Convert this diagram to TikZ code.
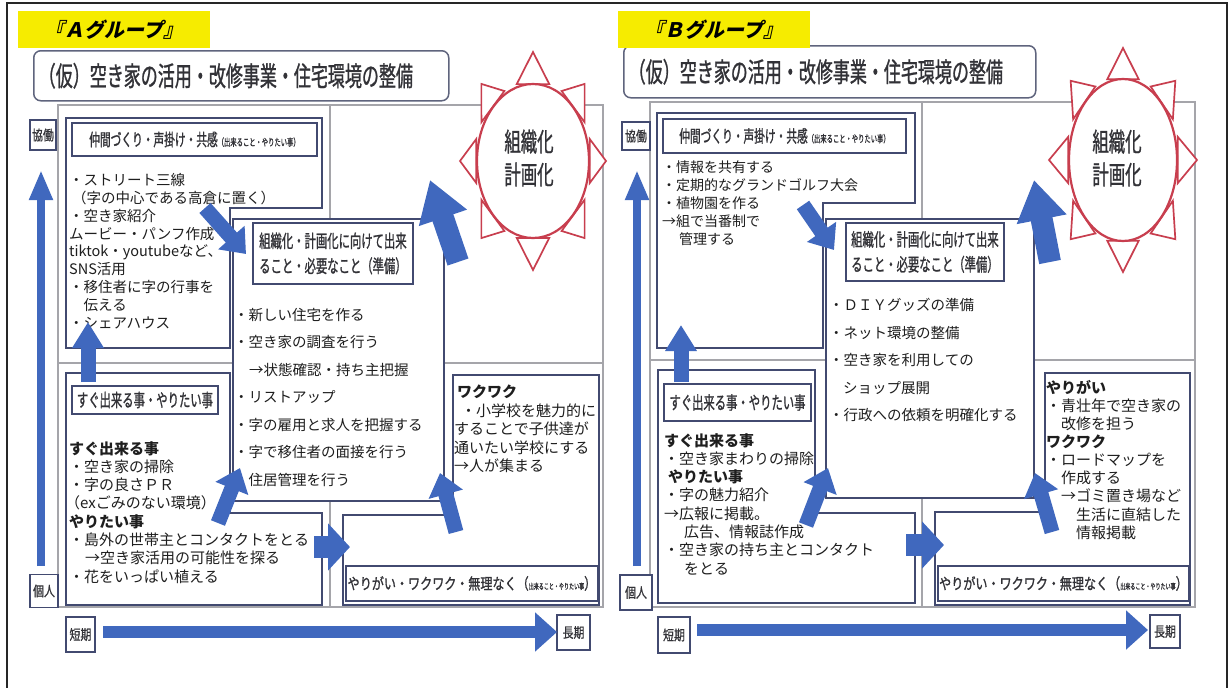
\documentclass[tikz,border=0pt]{standalone}
\usepackage{fontspec}
\usetikzlibrary{arrows.meta,calc}
\newfontfamily\jp{Noto Sans CJK JP}
\newfontfamily\jpcn[FakeStretch=0.63,FakeBold=1]{Noto Sans CJK JP}
\newfontfamily\jpcm[FakeStretch=0.78,FakeBold=1]{Noto Sans CJK JP}
\newfontfamily\jpsl[FakeSlant=0.22]{Noto Sans CJK JP}
\definecolor{arrowblue}{RGB}{64,104,190}
\definecolor{boxline}{RGB}{66,74,112}
\definecolor{titleframe}{RGB}{95,100,125}
\definecolor{gridgray}{RGB}{165,165,170}
\definecolor{sunred}{RGB}{200,62,78}
\definecolor{labelyellow}{RGB}{246,236,0}
\definecolor{txt}{RGB}{30,30,30}
\definecolor{titletxt}{RGB}{50,50,55}
\begin{document}
\begin{tikzpicture}[x=1pt,y=-1pt,
  gridline/.style={draw=gridgray, line width=1.4pt},
  panelbox/.style={draw=boxline, line width=1.6pt, fill=white},
  panelnode/.style={draw=boxline, line width=1.6pt, fill=white, inner sep=0pt},
  subtitle/.style={draw=boxline, line width=1.9pt, fill=white, inner sep=0pt, text=titletxt},
  maintitle/.style={draw=titleframe, line width=1.5pt, rounded corners=7pt, fill=white, inner xsep=5pt, inner ysep=0pt, align=left, text=titletxt, font=\jpcn\fontsize{27pt}{27pt}\selectfont},
  ylabel/.style={fill=labelyellow, inner sep=0pt, font=\jpsl\bfseries\fontsize{20pt}{20pt}\selectfont},
  axisbox/.style={draw=boxline, line width=1.4pt, fill=white, inner sep=0pt, text=titletxt, font=\jpcm\fontsize{14pt}{14pt}\selectfont},
  bodytxt/.style={anchor=north west, inner sep=0pt, align=left, text=txt},
  sunline/.style={draw=sunred, line width=1.7pt, fill=white, line join=miter},
  suntext/.style={inner sep=0pt, align=center, text=titletxt, font=\jpcn\fontsize{26pt}{33pt}\selectfont},
  barr/.style={draw=arrowblue, line width=15pt, -{Triangle[width=34pt,length=22pt]}},
  bigarr/.style={draw=arrowblue, line width=22pt, -{Triangle[width=48pt,length=40pt]}},
  uparr/.style={draw=arrowblue, line width=15pt, -{Triangle[width=30pt,length=26pt]}},
  axvarr/.style={draw=arrowblue, line width=8pt, -{Triangle[width=22pt,length=30pt]}},
  axharr/.style={draw=arrowblue, line width=12pt, -{Triangle[width=38pt,length=22pt]}}
]
\useasboundingbox (0,0) rectangle (1229,688);
\fill[white] (0,0) rectangle (1229,688);
\draw[line width=2pt, draw=black!85] (7,690) -- (7,3) -- (1227,3) -- (1227,690);

% ================= A GROUP =================
\draw[gridline] (58,105) rectangle (603,607);
\draw[gridline] (330,105) -- (330,607);
\draw[gridline] (58,363) -- (603,363);

\node[maintitle, anchor=north west, minimum height=50pt, text width=405pt] (titleA) at (33,50) {（仮）空き家の活用・改修事業・住宅環境の整備};
\node[ylabel, anchor=north west, minimum width=192pt, minimum height=37pt] (labelA) at (18,11) {『Ａグループ』};

% top-left box
\draw[panelbox] (66,118) -- (322,118) -- (322,208) -- (230,208) -- (230,348) -- (66,348) -- cycle;
\node[subtitle, anchor=north west, minimum width=245pt, minimum height=33pt] (tlTitleA) at (71,122) {{\jpcn\fontsize{17pt}{17pt}\selectfont 仲間づくり・声掛け・共感}{\jpcn\fontsize{10pt}{10pt}\selectfont （出来ること・やりたい事）}};
\node[bodytxt, font=\jp\fontsize{14.5pt}{17.9pt}\selectfont] (tlBodyA) at (69,173) {・ストリート三線\\\hspace*{3pt}（字の中心である高倉に置く）\\・空き家紹介\\ムービー・パンフ作成\\tiktok・youtubeなど、\\SNS活用\\・移住者に字の行事を\\　伝える\\・シェアハウス};

% middle box
\node[panelnode, anchor=north west, minimum width=211pt, minimum height=282pt] (midA) at (232,218) {};
\node[subtitle, anchor=north west, minimum width=160pt, minimum height=61pt, align=center, font=\jpcn\fontsize{18pt}{25pt}\selectfont] (midTitleA) at (252,222) {組織化・計画化に向けて出来\\ること・必要なこと（準備）};
\node[bodytxt, font=\jp\fontsize{14.5pt}{27.5pt}\selectfont] (midBodyA) at (234,308) {・新しい住宅を作る\\・空き家の調査を行う\\\hspace*{15pt}→状態確認・持ち主把握\\・リストアップ\\・字の雇用と求人を把握する\\・字で移住者の面接を行う\\・住居管理を行う};

% bottom-left box
\draw[panelbox] (66,373) -- (230,373) -- (230,513) -- (322,513) -- (322,605) -- (66,605) -- cycle;
\node[subtitle, anchor=north west, minimum width=146pt, minimum height=28pt, font=\jpcn\fontsize{18pt}{18pt}\selectfont] (blTitleA) at (71,385) {すぐ出来る事・やりたい事};
\node[bodytxt, font=\jp\fontsize{15pt}{18.3pt}\selectfont] (blBodyA) at (69,441) {{\bfseries すぐ出来る事}\\・空き家の掃除\\・字の良さＰＲ\\\hspace*{-4pt}（exごみのない環境）\\{\bfseries やりたい事}\\・島外の世帯主とコンタクトをとる\\\hspace*{16pt}→空き家活用の可能性を探る\\・花をいっぱい植える};

% bottom-right box
\draw[panelbox] (343,515) -- (453,515) -- (453,375) -- (599,375) -- (599,605) -- (343,605) -- cycle;
\node[subtitle, anchor=north west, minimum width=252pt, minimum height=35pt] (brTitleA) at (345,565) {{\jpcm\fontsize{15.5pt}{15.5pt}\selectfont やりがい・ワクワク・無理なく（}{\jpcn\fontsize{8pt}{8pt}\selectfont 出来ること・やりたい事}{\jpcm\fontsize{15.5pt}{15.5pt}\selectfont ）}};
\node[bodytxt, font=\jp\fontsize{15pt}{18.5pt}\selectfont] (brBodyA) at (454,385) {\hspace*{3pt}{\bfseries ワクワク}\\\hspace*{7pt}・小学校を魅力的に\\することで子供達が\\通いたい学校にする\\→人が集まる};

% sun
\coordinate (sunAc) at (533,161);
\foreach \a in {0,45,...,315}
  \draw[sunline] ($(sunAc)+(\a:73 and 109)$) -- ($(sunAc)+(\a+16:59 and 80)$) -- ($(sunAc)+(\a-16:59 and 80)$) -- cycle;
\draw[sunline, line width=2.2pt] (sunAc) ellipse [x radius=56pt, y radius=77pt];
\node[suntext] (sunTextA) at (529,158) {組織化\\計画化};

% axis labels
\node[axisbox, minimum width=26pt, minimum height=30pt] (kyodoA) at (43,135) {協働};
\node[axisbox, minimum width=28pt, minimum height=33pt] (kojinA) at (44,591) {個人};
\node[axisbox, minimum width=29pt, minimum height=35pt] (tankiA) at (80.5,634.5) {短期};
\node[axisbox, minimum width=33pt, minimum height=35pt] (chokiA) at (573.5,632.5) {長期};

% arrows A
\coordinate (vA1) at (41,566); \coordinate (vA2) at (41,170);
\draw[axvarr] (vA1) -- (vA2);
\coordinate (hA1) at (103,632); \coordinate (hA2) at (557,632);
\draw[axharr] (hA1) -- (hA2);
\coordinate (aA1) at (205,208); \coordinate (aA2) at (246,254);
\draw[barr] (aA1) -- (aA2);
\coordinate (bA1) at (458,262); \coordinate (bA2) at (430,180);
\draw[bigarr] (bA1) -- (bA2);
\coordinate (cA1) at (88,382); \coordinate (cA2) at (88,322);
\draw[uparr] (cA1) -- (cA2);
\coordinate (dA1) at (218,523); \coordinate (dA2) at (240,468);
\draw[barr] (dA1) -- (dA2);
\coordinate (eA1) at (314,547); \coordinate (eA2) at (350,547);
\draw[barr, line width=22pt, -{Triangle[width=46pt,length=22pt]}] (eA1) -- (eA2);
\coordinate (fA1) at (456,532); \coordinate (fA2) at (440,473);
\draw[barr] (fA1) -- (fA2);

% ================= B GROUP =================
\draw[gridline] (650,102) rectangle (1195,607);
\draw[gridline] (922,102) -- (922,607);
\draw[gridline] (650,360) -- (1195,360);

\node[maintitle, anchor=north west, minimum height=52pt, text width=402pt] (titleB) at (623,45) {（仮）空き家の活用・改修事業・住宅環境の整備};
\node[ylabel, anchor=north west, minimum width=192pt, minimum height=37pt] (labelB) at (618,11) {『Ｂグループ』};

% top-left box
\draw[panelbox] (657,113) -- (915,113) -- (915,203) -- (823,203) -- (823,348) -- (657,348) -- cycle;
\node[subtitle, anchor=north west, minimum width=243pt, minimum height=34pt] (tlTitleB) at (662,118) {{\jpcn\fontsize{17pt}{17pt}\selectfont 仲間づくり・声掛け・共感}{\jpcn\fontsize{10pt}{10pt}\selectfont （出来ること・やりたい事）}};
\node[bodytxt, font=\jp\fontsize{14pt}{17.8pt}\selectfont] (tlBodyB) at (662,161) {・情報を共有する\\・定期的なグランドゴルフ大会\\・植物園を作る\\→組で当番制で\\\hspace*{17pt}管理する};

% middle box
\node[panelnode, anchor=north west, minimum width=208pt, minimum height=279pt] (midB) at (825,218) {};
\node[subtitle, anchor=north west, minimum width=158pt, minimum height=58pt, align=center, font=\jpcn\fontsize{18pt}{25pt}\selectfont] (midTitleB) at (845,222) {組織化・計画化に向けて出来\\ること・必要なこと（準備）};
\node[bodytxt, font=\jp\fontsize{14.5pt}{27.5pt}\selectfont] (midBodyB) at (829,298) {・ＤＩＹグッズの準備\\・ネット環境の整備\\・空き家を利用しての\\\hspace*{14pt}ショップ展開\\・行政への依頼を明確化する};

% bottom-left box
\draw[panelbox] (658,370) -- (815,370) -- (815,513) -- (915,513) -- (915,603) -- (658,603) -- cycle;
\node[subtitle, anchor=north west, minimum width=147pt, minimum height=37pt, font=\jpcn\fontsize{18pt}{18pt}\selectfont] (blTitleB) at (663,383) {すぐ出来る事・やりたい事};
\node[bodytxt, font=\jp\fontsize{15pt}{18.3pt}\selectfont] (blBodyB) at (664,433) {{\bfseries すぐ出来る事}\\・空き家まわりの掃除\\\hspace*{4pt}{\bfseries やりたい事}\\・字の魅力紹介\\→広報に掲載。\\\hspace*{20pt}広告、情報誌作成\\・空き家の持ち主とコンタクト\\\hspace*{20pt}をとる};

% bottom-right box
\draw[panelbox] (935,512) -- (1045,512) -- (1045,373) -- (1190,373) -- (1190,605) -- (935,605) -- cycle;
\node[subtitle, anchor=north west, minimum width=251pt, minimum height=35pt] (brTitleB) at (937,565) {{\jpcm\fontsize{15.5pt}{15.5pt}\selectfont やりがい・ワクワク・無理なく（}{\jpcn\fontsize{8pt}{8pt}\selectfont 出来ること・やりたい事}{\jpcm\fontsize{15.5pt}{15.5pt}\selectfont ）}};
\node[bodytxt, font=\jp\fontsize{15pt}{18.1pt}\selectfont] (brBodyB) at (1046,380) {{\bfseries やりがい}\\・青壮年で空き家の\\\hspace*{15pt}改修を担う\\{\bfseries ワクワク}\\・ロードマップを\\\hspace*{15pt}作成する\\\hspace*{15pt}→ゴミ置き場など\\\hspace*{30pt}生活に直結した\\\hspace*{30pt}情報掲載};

% sun
\coordinate (sunBc) at (1123,160);
\foreach \a in {0,45,...,315}
  \draw[sunline] ($(sunBc)+(\a:74 and 112)$) -- ($(sunBc)+(\a+16:57 and 84)$) -- ($(sunBc)+(\a-16:57 and 84)$) -- cycle;
\draw[sunline, line width=2.2pt] (sunBc) ellipse [x radius=54pt, y radius=81pt];
\node[suntext] (sunTextB) at (1117,158) {組織化\\計画化};

% axis labels
\node[axisbox, minimum width=28pt, minimum height=28pt] (kyodoB) at (636,136) {協働};
\node[axisbox, minimum width=32pt, minimum height=35pt] (kojinB) at (636,592.5) {個人};
\node[axisbox, minimum width=32pt, minimum height=36pt] (tankiB) at (674,635) {短期};
\node[axisbox, minimum width=30pt, minimum height=33pt] (chokiB) at (1165,631.5) {長期};

% arrows B
\coordinate (vB1) at (637,566); \coordinate (vB2) at (637,170);
\draw[axvarr] (vB1) -- (vB2);
\coordinate (hB1) at (697,630); \coordinate (hB2) at (1148,630);
\draw[axharr] (hB1) -- (hB2);
\coordinate (aB1) at (803,205); \coordinate (aB2) at (834,250);
\draw[barr] (aB1) -- (aB2);
\coordinate (bB1) at (1050,262); \coordinate (bB2) at (1034,180);
\draw[bigarr] (bB1) -- (bB2);
\coordinate (cB1) at (681,382); \coordinate (cB2) at (681,325);
\draw[uparr] (cB1) -- (cB2);
\coordinate (dB1) at (806,525); \coordinate (dB2) at (828,468);
\draw[barr] (dB1) -- (dB2);
\coordinate (eB1) at (906,545); \coordinate (eB2) at (944,545);
\draw[barr, line width=22pt, -{Triangle[width=46pt,length=22pt]}] (eB1) -- (eB2);
\coordinate (fB1) at (1052,532); \coordinate (fB2) at (1035,473);
\draw[barr] (fB1) -- (fB2);
\end{tikzpicture}
\end{document}
